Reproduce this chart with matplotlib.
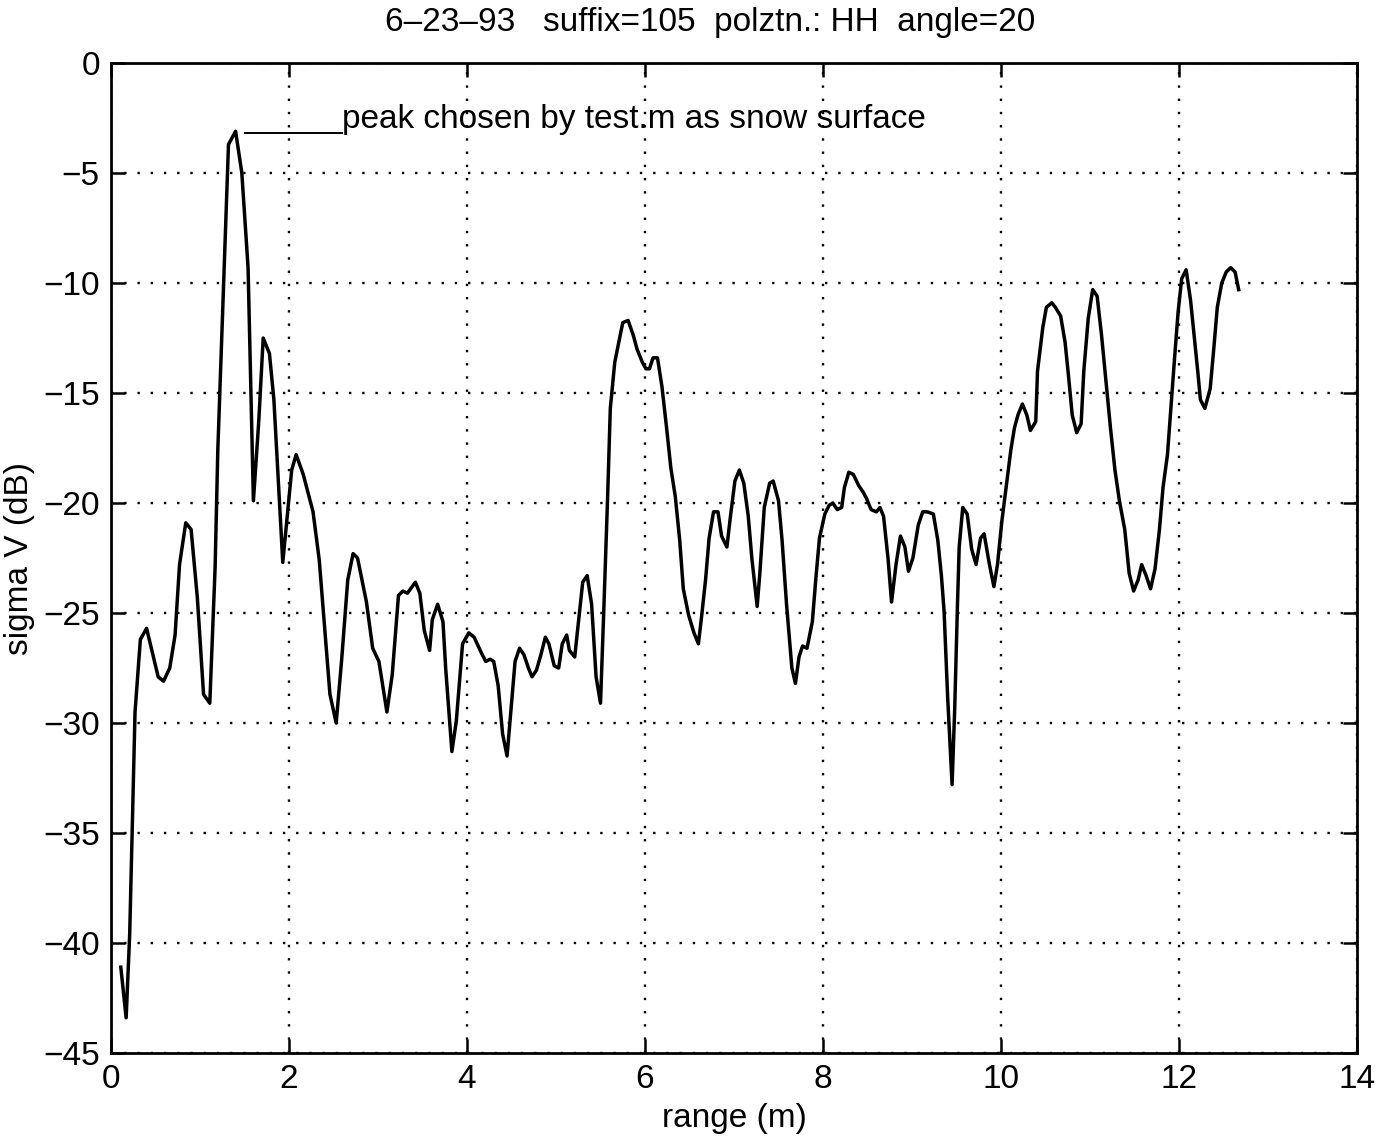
import numpy as np
import matplotlib
matplotlib.use("Agg")
import matplotlib.pyplot as plt

plt.rcParams['font.family'] = ['Liberation Sans', 'DejaVu Sans']
plt.rcParams['axes.unicode_minus'] = True

# range (m) and sigma (dB)
rng = [0.11, 0.17, 0.21, 0.27, 0.33, 0.40, 0.53, 0.59, 0.66, 0.72, 0.77, 0.84, 0.90, 0.97,
       1.04, 1.11, 1.17, 1.20, 1.32, 1.40, 1.47, 1.54, 1.60, 1.66, 1.71, 1.78, 1.83, 1.93,
       2.03, 2.08, 2.16, 2.27, 2.34, 2.46, 2.53, 2.59, 2.66, 2.72, 2.77, 2.87, 2.94, 3.01,
       3.10, 3.16, 3.23, 3.28, 3.33, 3.42, 3.47, 3.52, 3.58, 3.61, 3.67, 3.73, 3.76, 3.83,
       3.88, 3.95, 4.02, 4.08, 4.16, 4.21, 4.26, 4.30, 4.35, 4.40, 4.45, 4.49, 4.54, 4.59,
       4.64, 4.69, 4.73, 4.78, 4.83, 4.88, 4.92, 4.98, 5.03, 5.07, 5.12, 5.15, 5.21, 5.26,
       5.30, 5.35, 5.40, 5.45, 5.50, 5.54, 5.58, 5.61, 5.66, 5.71, 5.75, 5.81, 5.87, 5.91,
       5.97, 6.01, 6.05, 6.09, 6.14, 6.19, 6.24, 6.29, 6.34, 6.39, 6.43, 6.49, 6.55, 6.60,
       6.64, 6.68, 6.72, 6.77, 6.82, 6.86, 6.92, 6.96, 7.01, 7.06, 7.11, 7.16, 7.20, 7.26,
       7.29, 7.34, 7.40, 7.44, 7.50, 7.54, 7.59, 7.65, 7.69, 7.73, 7.77, 7.82, 7.88, 7.92,
       7.96, 8.02, 8.07, 8.11, 8.16, 8.21, 8.24, 8.29, 8.34, 8.40, 8.45, 8.49, 8.54, 8.60,
       8.64, 8.68, 8.73, 8.77, 8.82, 8.87, 8.92, 8.96, 9.01, 9.07, 9.12, 9.17, 9.24, 9.29,
       9.33, 9.36, 9.40, 9.45, 9.48, 9.51, 9.53, 9.57, 9.62, 9.67, 9.72, 9.77, 9.81, 9.87,
       9.92, 9.96, 10.01, 10.06, 10.11, 10.15, 10.19, 10.24, 10.29, 10.33, 10.39, 10.41,
       10.47, 10.51, 10.57, 10.61, 10.67, 10.72, 10.76, 10.80, 10.85, 10.90, 10.93, 10.98,
       11.03, 11.08, 11.13, 11.18, 11.23, 11.28, 11.33, 11.39, 11.44, 11.49, 11.54, 11.58,
       11.63, 11.68, 11.73, 11.78, 11.82, 11.87, 11.91, 11.95, 11.99, 12.03, 12.08, 12.13,
       12.17, 12.21, 12.24, 12.29, 12.35, 12.39, 12.43, 12.48, 12.53, 12.58, 12.63, 12.67]

sigma = [-41.1, -43.4, -39.6, -29.5, -26.2, -25.7, -27.9, -28.1, -27.5, -26.0, -22.8, -20.9,
         -21.2, -24.3, -28.7, -29.1, -22.9, -17.6, -3.7, -3.1, -5.0, -9.3, -19.9, -16.3,
         -12.5, -13.2, -15.3, -22.7, -18.5, -17.8, -18.7, -20.4, -22.6, -28.7, -30.0, -27.2,
         -23.5, -22.3, -22.5, -24.5, -26.6, -27.2, -29.5, -27.8, -24.2, -24.0, -24.1, -23.6,
         -24.1, -25.8, -26.7, -25.3, -24.6, -25.4, -27.5, -31.3, -29.9, -26.4, -25.9, -26.1,
         -26.8, -27.2, -27.1, -27.2, -28.3, -30.5, -31.5, -29.6, -27.2, -26.6, -26.9, -27.5,
         -27.9, -27.6, -26.9, -26.1, -26.4, -27.4, -27.5, -26.4, -26.0, -26.7, -27.0, -25.1,
         -23.6, -23.3, -24.6, -27.9, -29.1, -24.5, -19.7, -15.7, -13.6, -12.6, -11.8, -11.7,
         -12.4, -13.0, -13.6, -13.9, -13.9, -13.4, -13.4, -14.7, -16.5, -18.4, -19.7, -21.7,
         -23.9, -25.1, -25.9, -26.4, -25.0, -23.5, -21.6, -20.4, -20.4, -21.5, -22.0, -20.6,
         -19.0, -18.5, -19.1, -20.6, -22.5, -24.7, -23.2, -20.2, -19.1, -19.0, -19.9, -21.7,
         -24.6, -27.5, -28.2, -27.0, -26.5, -26.6, -25.4, -23.4, -21.6, -20.5, -20.1, -20.0,
         -20.3, -20.2, -19.3, -18.6, -18.7, -19.2, -19.5, -19.8, -20.3, -20.4, -20.2, -20.6,
         -22.5, -24.5, -22.8, -21.5, -22.0, -23.1, -22.5, -21.0, -20.4, -20.4, -20.5, -21.7,
         -23.3, -24.9, -28.8, -32.8, -29.3, -24.7, -22.0, -20.2, -20.5, -22.1, -22.8, -21.6,
         -21.4, -22.8, -23.8, -22.8, -20.8, -19.2, -17.6, -16.6, -16.0, -15.5, -16.0, -16.7,
         -16.3, -14.0, -12.0, -11.1, -10.9, -11.1, -11.5, -12.7, -14.3, -16.0, -16.8, -16.4,
         -14.0, -11.6, -10.3, -10.6, -12.4, -14.5, -16.6, -18.5, -19.9, -21.2, -23.2, -24.0,
         -23.5, -22.8, -23.3, -23.9, -23.0, -21.2, -19.3, -17.8, -15.6, -13.4, -11.3, -9.8,
         -9.4, -10.8, -12.4, -14.0, -15.3, -15.7, -14.8, -13.0, -11.1, -10.0, -9.5, -9.3,
         -9.5, -10.3]

xticks = list(range(0, 15, 2))
yticks = list(range(-45, 1, 5))

title = "6\u201323\u201393   suffix=105  polztn.: HH  angle=20"
note = "peak chosen by test.m as snow surface"

fig = plt.figure(figsize=(13.98, 11.38), dpi=100)
ax = fig.add_axes([0.0794, 0.0747, 0.8913, 0.8699])

ax.plot(rng, sigma, color='black', lw=2.5)

# label line out from the strongest return
ip = int(np.argmax(sigma))
ax.plot([rng[ip] + 0.1, 2.6], [sigma[ip] - 0.1, sigma[ip] - 0.1], color='black', lw=1.4)
ax.text(2.6, sigma[ip] + 0.15, note, fontsize=24, ha='left', va='baseline')

ax.set_xlim(0, 14)
ax.set_ylim(-45, 0)
ax.set_xticks(xticks)
ax.set_yticks(yticks)
ax.tick_params(direction='in', length=10, width=1.8, labelsize=24,
               top=True, right=True, pad=8)
for s in ax.spines.values():
    s.set_linewidth(2)
ax.grid(True, color='black', linestyle=(0, (1, 4.6)), linewidth=1.7)

ax.set_xlabel("range (m)", fontsize=24, labelpad=6)
ax.set_ylabel("sigma V (dB)", fontsize=24, labelpad=6)
fig.text(710 / 1398, 1 - 22 / 1138, title, fontsize=24, ha='center', va='center')

fig.savefig("out.png", dpi=100)
